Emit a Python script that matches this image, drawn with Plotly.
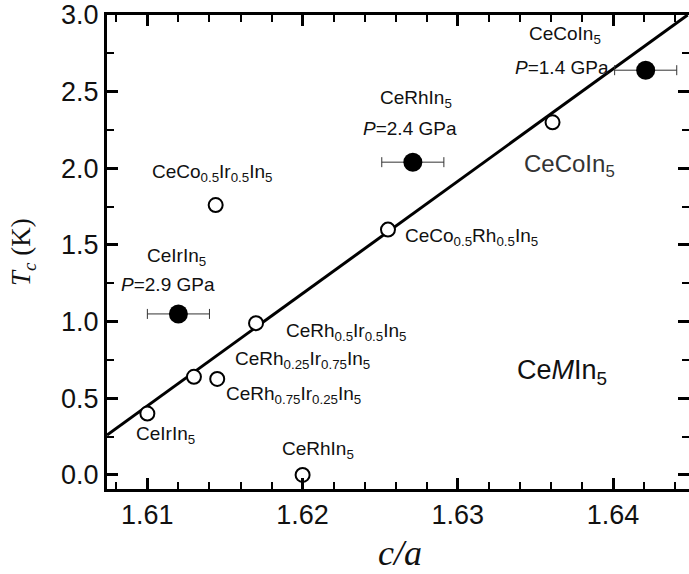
import plotly.graph_objects as go

# ---- data ----
open_x = [1.6100, 1.6130, 1.6145, 1.6170, 1.6200, 1.6144, 1.6255, 1.6361]
open_y = [0.40, 0.64, 0.626, 0.99, 0.00, 1.76, 1.60, 2.30]

press_x = [1.6120, 1.6271, 1.6421]
press_y = [1.05, 2.04, 2.64]
press_xerr = [0.002, 0.002, 0.002]

fit_x = [1.6074, 1.6448]
fit_y = [0.26, 3.00]

x_ticks = [1.61, 1.62, 1.63, 1.64]
y_ticks = [0.0, 0.5, 1.0, 1.5, 2.0, 2.5, 3.0]

labels = [
    ("CeCo<sub>0.5</sub>Ir<sub>0.5</sub>In<sub>5</sub>", 1.61419, 1.97),
    ("CeIrIn<sub>5</sub>", 1.6119, 1.42),
    ("<i>P</i>=2.9 GPa", 1.6113, 1.24),
    ("CeRhIn<sub>5</sub>", 1.6273, 2.45),
    ("<i>P</i>=2.4 GPa", 1.6269, 2.26),
    ("CeCoIn<sub>5</sub>", 1.6369, 2.87),
    ("<i>P</i>=1.4 GPa", 1.6367, 2.655),
    ("CeCo<sub>0.5</sub>Rh<sub>0.5</sub>In<sub>5</sub>", 1.6309, 1.55),
    ("CeRh<sub>0.5</sub>Ir<sub>0.5</sub>In<sub>5</sub>", 1.6228, 0.93),
    ("CeRh<sub>0.25</sub>Ir<sub>0.75</sub>In<sub>5</sub>", 1.6200, 0.75),
    ("CeRh<sub>0.75</sub>Ir<sub>0.25</sub>In<sub>5</sub>", 1.6194, 0.52),
    ("CeIrIn<sub>5</sub>", 1.6112, 0.26),
    ("CeRhIn<sub>5</sub>", 1.6210, 0.16),
]

FONT = "Liberation Sans, Arial, sans-serif"
SERIF = "Liberation Serif, Times New Roman, serif"

fig = go.Figure()

fig.add_trace(go.Scatter(x=fit_x, y=fit_y, mode="lines",
                         line=dict(color="black", width=3), showlegend=False))

fig.add_trace(go.Scatter(
    x=press_x, y=press_y, mode="markers",
    marker=dict(size=19, color="black"),
    error_x=dict(type="data", array=press_xerr, color="#333", thickness=1, width=5),
    showlegend=False))

fig.add_trace(go.Scatter(
    x=open_x, y=open_y, mode="markers",
    marker=dict(size=14, color="white", line=dict(color="black", width=2)),
    showlegend=False))

# invisible trace to activate right-side tick axis
fig.add_trace(go.Scatter(x=fit_x[:1], y=fit_y[:1], yaxis="y2", mode="markers",
                         marker=dict(opacity=0), showlegend=False, hoverinfo="skip"))

for text, x, y in labels:
    fig.add_annotation(x=x, y=y, text=text, showarrow=False,
                       font=dict(family=FONT, size=19, color="#111"),
                       xanchor="center", yanchor="middle")

fig.add_annotation(x=1.6372, y=2.02, text="CeCoIn<sub>5</sub>", showarrow=False,
                   font=dict(family=FONT, size=24, color="#333"),
                   xanchor="center", yanchor="middle")
fig.add_annotation(x=1.6367, y=0.67, text="Ce<i>M</i>In<sub>5</sub>", showarrow=False,
                   font=dict(family=FONT, size=27, color="#111"),
                   xanchor="center", yanchor="middle")

# axis titles
fig.add_annotation(xref="paper", yref="paper", x=(400 - 107) / 582, y=(489 - 553) / 474,
                   text="<i>c/a</i>", showarrow=False,
                   font=dict(family=SERIF, size=36, color="#111"),
                   xanchor="center", yanchor="middle")
fig.add_annotation(xref="paper", yref="paper", x=(23 - 107) / 582, y=(489 - 252) / 474,
                   text="<i>T</i><sub><i>c</i></sub> (K)", showarrow=False, textangle=-90,
                   font=dict(family=SERIF, size=27, color="#111"),
                   xanchor="center", yanchor="middle")

axis_common = dict(showgrid=False, zeroline=False, ticks="inside",
                   tickcolor="black", linecolor="black")

fig.update_layout(
    width=689, height=574,
    margin=dict(l=107, r=0, t=15, b=85),
    paper_bgcolor="white", plot_bgcolor="white",
    xaxis=dict(range=[1.6074, 1.64489], tickvals=x_ticks,
               ticktext=[f"{v:.2f}" for v in x_ticks],
               showline=True, linewidth=3, mirror="ticks",
               ticklen=11, tickwidth=2.5,
               minor=dict(dtick=0.002, tick0=1.61, ticks="inside", ticklen=7,
                          tickwidth=2, tickcolor="black"),
               tickfont=dict(family=FONT, size=27, color="#111"),
               **axis_common),
    yaxis=dict(range=[-0.092, 3.0], tickvals=y_ticks,
               ticktext=[f"{v:.1f}" for v in y_ticks],
               showline=True, linewidth=3, mirror=False,
               ticklen=11, tickwidth=2.5,
               minor=dict(dtick=0.25, tick0=0, ticks="inside", ticklen=7,
                          tickwidth=2, tickcolor="black"),
               tickfont=dict(family=FONT, size=27, color="#111"),
               **axis_common),
    yaxis2=dict(range=[-0.092, 3.0], overlaying="y", side="right",
                tickvals=y_ticks, showticklabels=False, showline=False,
                ticklen=11, tickwidth=2.5,
                minor=dict(dtick=0.25, tick0=0, ticks="inside", ticklen=7,
                           tickwidth=2, tickcolor="black"),
                **axis_common),
)

fig.write_html("out.html")
